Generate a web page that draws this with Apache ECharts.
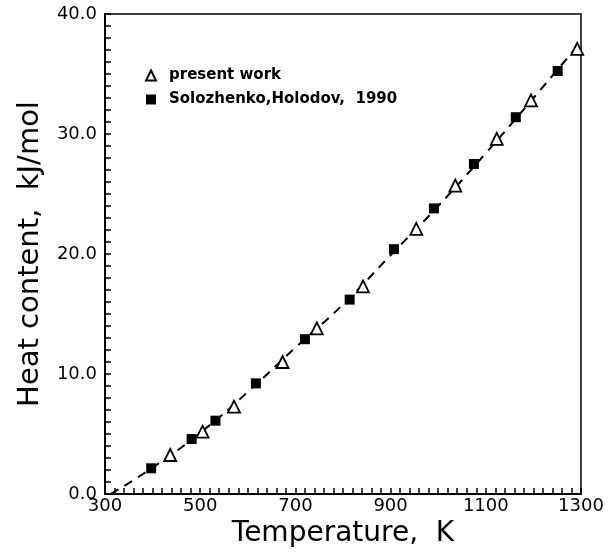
<!DOCTYPE html>
<html>
<head>
<meta charset="utf-8">
<script src="https://cdn.jsdelivr.net/npm/echarts@6/dist/echarts.min.js"></script>
<style>
  html, body { margin: 0; padding: 0; background: #fff; }
  #chart { width: 608px; height: 556px; }
</style>
</head>
<body>
<div id="chart"></div>
<script>
// values (T in K, heat content in kJ/mol)
const presentWork = [
  [437, 3.25], [505, 5.19], [571, 7.28], [673, 11.0], [745, 13.8], [842, 17.3],
  [954, 22.1], [1036, 25.7], [1123, 29.6], [1195, 32.8], [1292, 37.1],
];
const solozhenko = [
  [397, 2.14], [482, 4.58], [532, 6.11], [617, 9.22], [720, 12.9], [814, 16.2],
  [907, 20.4], [991, 23.8], [1075, 27.5], [1163, 31.4], [1251, 35.25],
];
const fitCurve = [
  [312, 0.0], [400, 2.2], [500, 5.1], [600, 8.5], [700, 12.2], [800, 15.8],
  [900, 19.9], [1000, 24.0], [1100, 28.4], [1200, 33.0], [1292, 37.3],
];
const xTicks = { min: 300, max: 1300, step: 200 };
const yTicks = { min: 0, max: 40, step: 10 };

const font = "DejaVu Sans";
const chart = echarts.init(document.getElementById("chart"), null, { renderer: "canvas" });

chart.setOption({
  animation: false,
  grid: {
    left: 105, right: 27, top: 14, bottom: 62,
    show: true, borderColor: "#000", borderWidth: 1.5, backgroundColor: "transparent",
  },
  legend: {
    orient: "vertical",
    left: 140, top: 63,
    itemWidth: 10, itemHeight: 10, itemGap: 9,
    textStyle: { fontFamily: font, fontSize: 15, fontWeight: "bold", color: "#000", padding: [0, 0, 0, 8] },
    data: [
      { name: "present work", icon: "triangle" },
      { name: "Solozhenko,Holodov,  1990", icon: "rect" },
    ],
  },
  xAxis: {
    type: "value",
    min: xTicks.min, max: xTicks.max, interval: xTicks.step,
    name: "Temperature,  K",
    nameLocation: "middle", nameGap: 20,
    nameTextStyle: { fontFamily: font, fontSize: 28, color: "#000" },
    axisLine: { lineStyle: { color: "#000", width: 2 } },
    axisTick: { inside: true, length: 6, lineStyle: { color: "#000", width: 1.5 } },
    minorTick: { show: true, splitNumber: 10, length: 6, lineStyle: { color: "#000", width: 1.5 } },
    axisLabel: { fontFamily: font, fontSize: 18, color: "#000", margin: 3, formatter: (v) => String(v) },
    splitLine: { show: false },
  },
  yAxis: {
    type: "value",
    min: yTicks.min, max: yTicks.max, interval: yTicks.step,
    name: "Heat content,  kJ/mol",
    nameLocation: "middle", nameGap: 60,
    nameTextStyle: { fontFamily: font, fontSize: 29, color: "#000" },
    axisLine: { lineStyle: { color: "#000", width: 2 } },
    axisTick: { inside: true, length: 6, lineStyle: { color: "#000", width: 1.5 } },
    minorTick: { show: true, splitNumber: 10, length: 6, lineStyle: { color: "#000", width: 1.5 } },
    axisLabel: { fontFamily: font, fontSize: 18, color: "#000", margin: 8, formatter: (v) => v.toFixed(1) },
    splitLine: { show: false },
  },
  series: [
    {
      name: "fit",
      type: "line",
      data: fitCurve,
      smooth: true,
      symbol: "none",
      lineStyle: { color: "#000", width: 2, type: [9, 7] },
      z: 1,
    },
    {
      name: "present work",
      type: "scatter",
      data: presentWork,
      symbol: "triangle",
      symbolSize: 12,
      itemStyle: { color: "#fff", borderColor: "#000", borderWidth: 1.8, opacity: 1 },
      z: 3,
    },
    {
      name: "Solozhenko,Holodov,  1990",
      type: "scatter",
      data: solozhenko,
      symbol: "rect",
      symbolSize: 10,
      itemStyle: { color: "#000", opacity: 1 },
      z: 3,
    },
  ],
});
</script>
</body>
</html>
